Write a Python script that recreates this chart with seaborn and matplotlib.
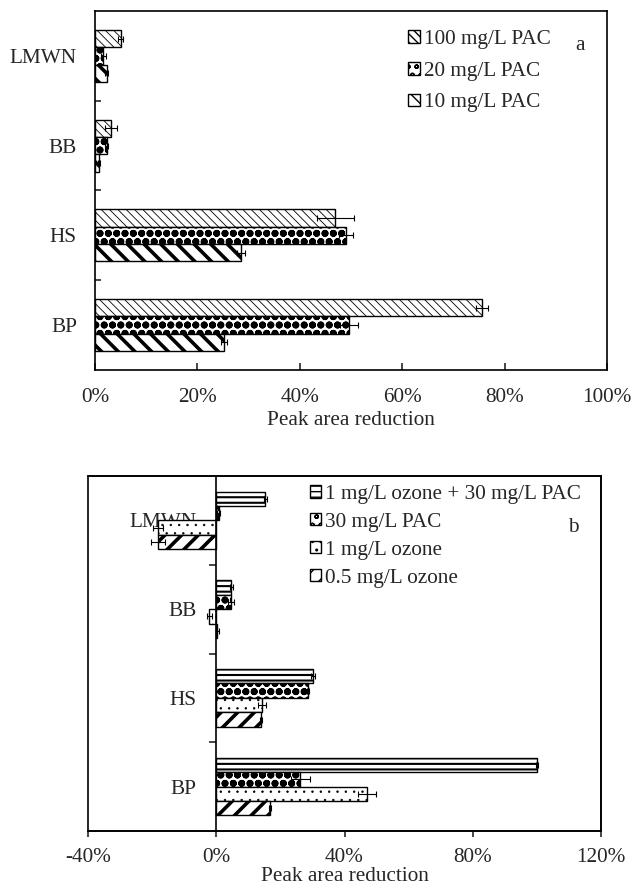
import numpy as np
import pandas as pd
import matplotlib

matplotlib.use("Agg")
import matplotlib.pyplot as plt
import seaborn as sns
from matplotlib.patches import Rectangle
from matplotlib.ticker import PercentFormatter, FixedLocator

# ------------------------------------------------------------------ data
categories = ["LMWN", "BB", "HS", "BP"]

# panel a (peak area reduction, %)
a_labels = ["100 mg/L PAC", "20 mg/L PAC", "10 mg/L PAC"]
a_pac100 = [5.0, 3.1, 46.9, 75.6]
a_pac100_err = [0.5, 1.2, 3.6, 1.2]
a_pac20 = [1.6, 2.3, 49.0, 49.6]
a_pac20_err = [0.5, 0.3, 1.3, 1.7]
a_pac10 = [2.3, 0.8, 28.5, 25.2]
a_pac10_err = [0.3, 0.2, 0.8, 0.5]

# panel b
b_labels = ["1 mg/L ozone + 30 mg/L PAC", "30 mg/L PAC", "1 mg/L ozone", "0.5 mg/L ozone"]
b_combo = [15.3, 4.7, 30.1, 100.0]
b_combo_err = [0.5, 0.5, 0.6, 0.3]
b_pac30 = [0.8, 4.6, 28.6, 26.2]
b_pac30_err = [0.5, 1.0, 0.4, 3.0]
b_oz1 = [-18.1, -2.2, 14.2, 46.9]
b_oz1_err = [1.5, 0.8, 1.2, 2.8]
b_oz05 = [-18.1, 0.3, 14.0, 16.7]
b_oz05_err = [2.2, 0.5, 0.4, 0.3]

W, H = 633, 886
FS = 15.3

sns.set_theme(style="white")
plt.rcParams["font.family"] = ["Liberation Serif", "DejaVu Serif"]
plt.rcParams["axes.unicode_minus"] = False
plt.rcParams["hatch.color"] = "black"


def long_frame(labels, series):
    rows = []
    for lab, vals in zip(labels, series):
        for c, v in zip(categories, vals):
            rows.append({"cat": c, "treatment": lab, "value": v})
    return pd.DataFrame(rows)


def draw_panel(ax, labels, series, errs, hatches, hatch_lw, width):
    df = long_frame(labels, series)
    sns.barplot(data=df, y="cat", x="value", hue="treatment", hue_order=labels,
                order=categories, orient="h", width=width, errorbar=None,
                palette={lab: "white" for lab in labels}, edgecolor="black",
                linewidth=1.0, ax=ax, legend=False)
    bars = list(ax.containers)
    for cont, h, lw, vals, err in zip(bars, hatches, hatch_lw, series, errs):
        ys = []
        for p in cont.patches:
            p.set_hatch(h)
            if hasattr(p, "set_hatch_linewidth"):
                p.set_hatch_linewidth(lw)
            ys.append(p.get_y() + p.get_height() / 2)
        ax.errorbar(vals, ys, xerr=err, fmt="none", ecolor="black",
                    elinewidth=0.8, capsize=2.5, capthick=0.8, zorder=5)
    # category separators as minor ticks
    n = len(categories)
    ax.yaxis.set_minor_locator(FixedLocator(np.arange(n - 1) + 0.5))
    ax.set_ylim(n - 0.5, -0.5)
    ax.set_ylabel("")
    ax.xaxis.set_major_formatter(PercentFormatter(xmax=100, decimals=0))
    for s in ax.spines.values():
        s.set_linewidth(1.2)
        s.set_color("black")
    return bars


fig = plt.figure(figsize=(W / 100, H / 100), dpi=100)

# ---------------------------------------------------------------- panel a
ax1 = fig.add_axes([95 / W, 1 - 370 / H, (607 - 95) / W, (370 - 11) / H])
conts = draw_panel(ax1, a_labels, [a_pac100, a_pac20, a_pac10],
                   [a_pac100_err, a_pac20_err, a_pac10_err],
                   ["\\\\\\\\", "oo", "\\\\"], [0.6, 2.6, 2.6], 0.58)
ax1.set_xlim(0, 100)
ax1.set_xticks(np.arange(0, 101, 20))
ax1.set_xlabel("Peak area reduction", fontsize=FS, labelpad=3)
ax1.tick_params(axis="x", which="major", direction="in", length=5, width=1.2,
                labelsize=FS, pad=13, bottom=True)
ax1.tick_params(axis="y", which="major", length=0, labelsize=FS, pad=13)
ax1.tick_params(axis="y", which="minor", direction="in", length=4, width=1.2, left=True)
ax1.legend([c.patches[0] for c in conts], a_labels, loc="upper left",
           bbox_to_anchor=(408 / W, 1 - 30 / H), bbox_transform=fig.transFigure,
           frameon=False, fontsize=FS, handlelength=0.55, handleheight=0.55,
           handletextpad=0.2, labelspacing=0.6, borderpad=0, borderaxespad=0)
fig.text(580 / W, 1 - 45 / H, "a", fontsize=FS, ha="center", va="center")

# ---------------------------------------------------------------- panel b
ax2 = fig.add_axes([88 / W, 1 - 831 / H, (601 - 88) / W, (831 - 476) / H])
conts = draw_panel(ax2, b_labels, [b_combo, b_pac30, b_oz1, b_oz05],
                   [b_combo_err, b_pac30_err, b_oz1_err, b_oz05_err],
                   ["---", "oo", "..", "//"], [1.5, 2.6, 0.5, 2.6], 0.65)
ax2.set_xlim(-40, 120)
ax2.set_xticks(np.arange(-40, 121, 40))
ax2.set_xlabel("Peak area reduction", fontsize=FS, labelpad=0)
ax2.spines["left"].set_position(("data", 0))
ax2.add_patch(Rectangle((0, 0), 1, 1, transform=ax2.transAxes, fill=False,
                        lw=1.2, edgecolor="black", clip_on=False, zorder=6))
ax2.tick_params(axis="x", which="major", direction="out", length=4, width=1.2,
                labelsize=FS, pad=8, bottom=True)
ax2.tick_params(axis="y", which="major", length=0, labelsize=FS, pad=14)
ax2.tick_params(axis="y", which="minor", direction="out", length=5, width=1.2, left=True)
ax2.legend([c.patches[0] for c in conts], b_labels, loc="upper left",
           bbox_to_anchor=(310 / W, 1 - 485 / H), bbox_transform=fig.transFigure,
           frameon=False, fontsize=FS, handlelength=0.5, handleheight=0.5,
           handletextpad=0.2, labelspacing=0.42, borderpad=0, borderaxespad=0)
fig.text(573 / W, 1 - 527 / H, "b", fontsize=FS, ha="center", va="center")

fig.savefig("out.png", dpi=100)
